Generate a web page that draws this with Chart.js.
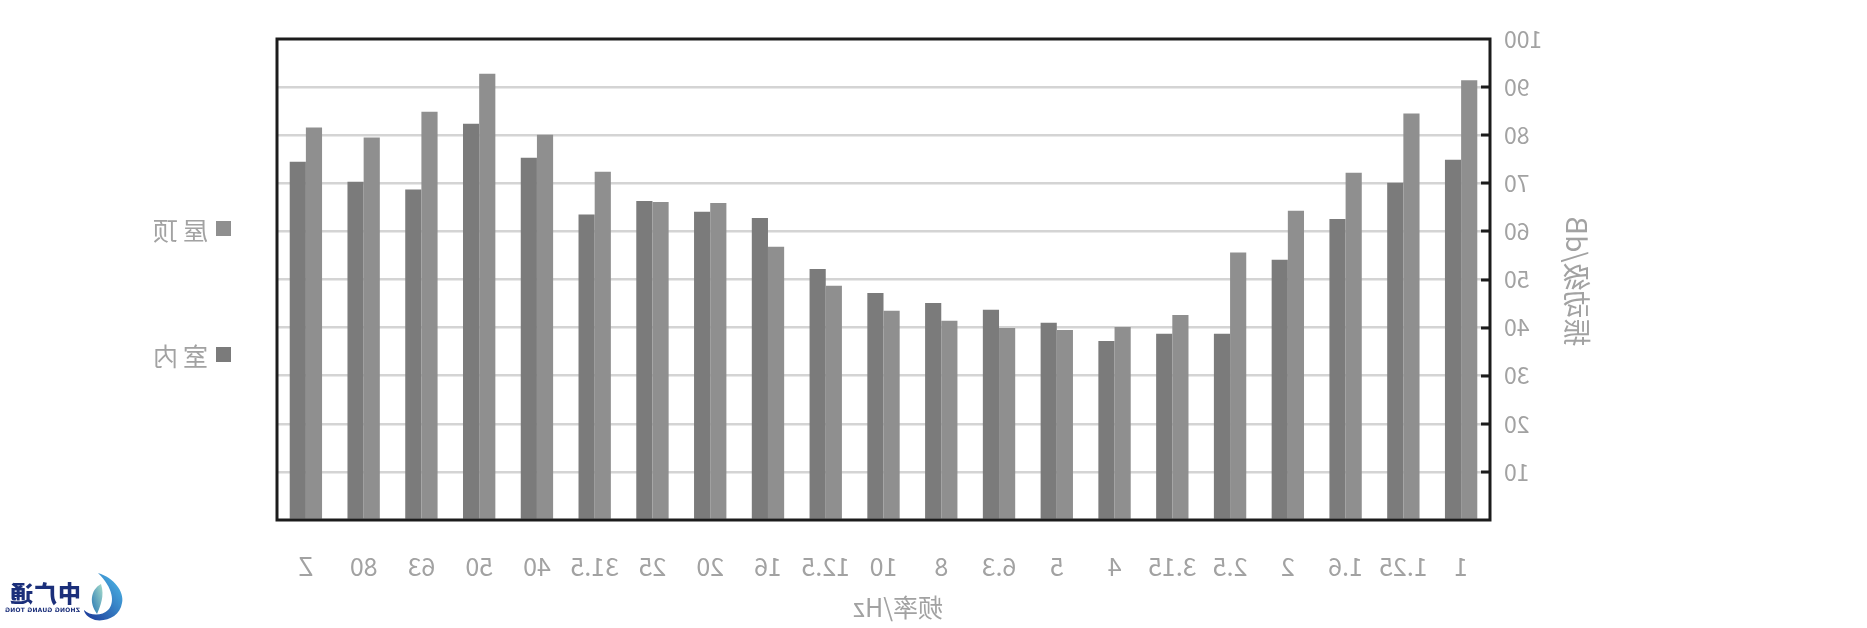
<!DOCTYPE html>
<html>
<head>
<meta charset="utf-8">
<script src="https://cdn.jsdelivr.net/npm/chart.js@4.4.1/dist/chart.umd.min.js"></script>
<style>
  html, body { margin: 0; padding: 0; background: #ffffff; }
  #wrap { position: relative; width: 1867px; height: 628px; transform: scaleX(-1); transform-origin: center; overflow: hidden; }
  #c { position: absolute; left: 0; top: 0; }
  #logo { position: absolute; left: 1741px; top: 571px; width: 124px; height: 54px; }
  #logo .txt { position: absolute; left: 45px; top: 9px; font-family: "Noto Sans CJK SC", sans-serif; font-weight: 900; font-size: 23px; line-height: 25px; color: #1b2f7a; letter-spacing: 1px; }
  #logo .sub { position: absolute; left: 46px; top: 35px; font-family: "DejaVu Sans", sans-serif; font-weight: bold; font-size: 6px; color: #1b2f7a; white-space: nowrap; letter-spacing: 0.2px; }
</style>
</head>
<body>
<div id="wrap">
  <canvas id="c" width="1867" height="628"></canvas>
  <div id="logo">
    <svg width="42" height="52" viewBox="0 0 42 52" style="position:absolute;left:0;top:0">
      <defs>
        <linearGradient id="g1" x1="0" y1="0" x2="1" y2="1">
          <stop offset="0" stop-color="#4fc0ec"/>
          <stop offset="1" stop-color="#1a3596"/>
        </linearGradient>
        <linearGradient id="g2" x1="0" y1="0" x2="1" y2="1">
          <stop offset="0" stop-color="#a6dccb"/>
          <stop offset="1" stop-color="#2676b3"/>
        </linearGradient>
      </defs>
      <path d="M28 2 C12 7 2 20 4 32 C6 45 19 51 31 49 C38 47 42 42 42 39 C36 45 24 45 18 39 C11 31 13 17 28 2 Z" fill="url(#g1)"/>
      <path d="M25 13 C36 19 37 33 29 43 C26 35 21 25 25 13 Z" fill="url(#g2)"/>
    </svg>
    <div class="txt">中广通</div>
    <div class="sub">ZHONG GUANG TONG</div>
  </div>
</div>
<script>
const categories = ['1','1.25','1.6','2','2.5','3.15','4','5','6.3','8','10','12.5','16','20','25','31.5','40','50','63','80','Z'];
const roofValues   = [91.4, 84.5, 72.2, 64.3, 55.6, 42.6, 40.1, 39.5, 39.9, 41.4, 43.5, 48.7, 56.8, 65.9, 66.1, 72.4, 80.1, 92.8, 84.9, 79.5, 81.6];
const indoorValues = [74.9, 70.1, 62.6, 54.1, 38.7, 38.7, 37.2, 41.0, 43.7, 45.1, 47.2, 52.2, 62.8, 64.1, 66.3, 63.5, 75.3, 82.4, 68.7, 70.3, 74.5];
const seriesNames = ['屋顶', '室内'];
const yTickValues = [10, 20, 30, 40, 50, 60, 70, 80, 90, 100];
const xTitle = '频率/Hz';
const yTitle = '振动级/dB';

const COL_LIGHT = '#8f8f8f';
const COL_DARK = '#7b7b7b';
const TXT = '#a2a2a2';
const FONT = '"Noto Sans CJK SC", "Noto Sans", sans-serif';

const decor = {
  id: 'decor',
  afterDraw(chart) {
    const ctx = chart.ctx;
    const a = chart.chartArea;
    const y = chart.scales.y;
    ctx.save();
    ctx.strokeStyle = '#1c1c1c';
    ctx.lineWidth = 3;
    ctx.strokeRect(a.left, a.top, a.right - a.left, a.bottom - a.top);
    yTickValues.forEach(v => {
      if (v >= 100) return;
      const py = Math.round(y.getPixelForValue(v));
      ctx.beginPath();
      ctx.moveTo(a.left, py);
      ctx.lineTo(a.left + 9, py);
      ctx.stroke();
    });
    ctx.fillStyle = TXT;
    ctx.textAlign = 'center';
    ctx.textBaseline = 'middle';
    ctx.font = '25px ' + FONT;
    ctx.fillText(xTitle, 969, 607);
    ctx.save();
    ctx.font = '28px ' + FONT;
    ctx.translate(290, (a.top + a.bottom) / 2 + 2);
    ctx.rotate(-Math.PI / 2);
    ctx.fillText(yTitle, 0, 0);
    ctx.restore();
    const items = [
      { name: seriesNames[0], color: COL_LIGHT, cy: 229 },
      { name: seriesNames[1], color: COL_DARK, cy: 355 }
    ];
    ctx.textAlign = 'left';
    ctx.font = '25px ' + FONT;
    items.forEach(it => {
      ctx.fillStyle = it.color;
      ctx.fillRect(1636, it.cy - 8, 15, 15);
      ctx.fillStyle = TXT;
      ctx.letterSpacing = '5px';
      ctx.fillText(it.name, 1659, it.cy + 1);
    });
    ctx.restore();
  }
};

new Chart(document.getElementById('c'), {
  type: 'bar',
  data: {
    labels: categories,
    datasets: [
      { label: seriesNames[0], data: roofValues, backgroundColor: COL_LIGHT, borderWidth: 0, categoryPercentage: 0.56, barPercentage: 1.0 },
      { label: seriesNames[1], data: indoorValues, backgroundColor: COL_DARK, borderWidth: 0, categoryPercentage: 0.56, barPercentage: 1.0 }
    ]
  },
  options: {
    responsive: false,
    animation: false,
    devicePixelRatio: 1,
    layout: { padding: { left: 0, right: 277, top: 39, bottom: 0 } },
    plugins: { legend: { display: false }, tooltip: { enabled: false }, title: { display: false } },
    scales: {
      x: {
        grid: { display: false, drawTicks: false },
        border: { display: false },
        ticks: { color: TXT, font: { family: FONT, size: 25 }, padding: 31, maxRotation: 0, autoSkip: false },
        afterFit(s) { s.height = 108; }
      },
      y: {
        min: 0, max: 100,
        grid: {
          drawTicks: false,
          lineWidth: 2.5,
          color: (c) => (c.tick && (c.tick.value <= 0 || c.tick.value >= 100)) ? 'rgba(0,0,0,0)' : '#d4d4d4'
        },
        border: { display: false },
        ticks: {
          stepSize: 10,
          color: TXT,
          padding: 14,
          font: { family: FONT, size: 23 },
          callback: (v) => (v === 0 ? '' : v)
        },
        afterFit(s) { s.width = 377; }
      }
    }
  },
  plugins: [decor]
});
</script>
</body>
</html>
